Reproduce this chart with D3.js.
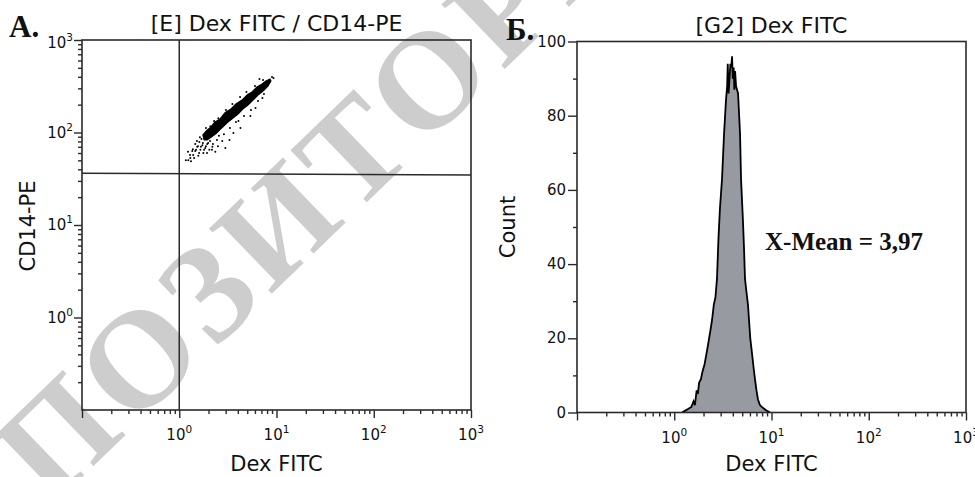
<!DOCTYPE html>
<html><head><meta charset="utf-8">
<script src="https://cdn.jsdelivr.net/npm/d3@7"></script>
<style>body{margin:0;background:#fff;overflow:hidden} svg{display:block}</style>
</head><body>
<svg id="c" width="975" height="477"></svg>
<script>
// ---------------- data ----------------
const panelTitles = ["[E] Dex FITC / CD14-PE", "[G2] Dex FITC"];
const panelLetters = ["А.", "Б."];
const xAxisLabel = "Dex FITC";
const yAxisLabels = ["CD14-PE", "Count"];
const logDomain = [0.1, 1000];
const logMajorExps = [0, 1, 2, 3];
const countDomain = [0, 100];
const countMajor = [0, 20, 40, 60, 80, 100];
const countMinor = [10, 30, 50, 70, 90];
const gateX = 1.0;
const gateYLeftRight = [36.2, 34.8];

// dense core of the Dex FITC / CD14-PE cloud (FITC, PE)
const coreUpperFITC = [1.75, 1.93, 2.12, 2.33, 2.63, 2.95, 3.40, 3.83, 4.42, 4.97, 5.60, 6.30, 7.10, 7.80, 8.57];
const coreUpperPE   = [94, 106, 115, 130, 140, 163, 180, 203, 224, 254, 274, 310, 334, 360, 379];
const coreLowerFITC = [8.77, 8.18, 7.26, 6.45, 5.73, 5.09, 4.53, 4.02, 3.57, 3.10, 2.73, 2.43, 2.12, 1.93, 1.80];
const coreLowerPE   = [360, 318, 281, 254, 224, 198, 180, 158, 143, 127, 112, 99, 89, 83, 83];
// individual events outside the dense core (FITC, PE)
const dotFITC = [1.30, 1.39, 1.46, 1.57, 1.36, 1.53, 1.65, 1.73, 1.61, 1.77, 1.85, 1.46, 1.69, 1.94, 2.04, 2.19, 2.35, 1.24, 2.98, 2.77, 3.28, 3.60, 4.26, 4.06, 5.39, 6.08, 7.17, 9.31, 6.68, 4.91, 3.52, 2.52, 2.09, 1.90,
  1.17, 1.29, 1.42, 1.49, 1.60, 1.67, 1.80, 1.88, 1.98, 1.56, 1.38, 1.52, 2.07, 2.22, 2.44, 2.56, 2.88, 3.32, 3.83, 4.63, 5.47, 6.45, 7.43, 8.99, 7.26, 6.01, 4.22, 3.02, 2.28, 1.88, 1.63, 1.75, 1.32, 1.23, 1.93, 2.17, 2.50];
const dotPE   = [53, 57, 63, 56, 63, 70, 65, 73, 79, 60, 68, 75, 85, 75, 65, 70, 62, 50, 68, 81, 83, 99, 112, 133, 151, 184, 236, 388, 378, 274, 203, 143, 117, 101,
  50, 57, 53, 65, 60, 70, 65, 71, 77, 71, 66, 81, 81, 75, 83, 92, 96, 112, 130, 151, 175, 219, 261, 398, 370, 318, 242, 175, 133, 112, 89, 77, 49, 62, 60, 65, 71];

// histogram outline of Dex FITC (value, count)
const histFITC  = [1.20, 1.30, 1.40, 1.50, 1.58, 1.63, 1.70, 1.75, 1.80, 1.88, 1.95, 2.05, 2.15, 2.25, 2.35, 2.45, 2.55, 2.65, 2.75, 2.85, 2.95, 3.10, 3.25, 3.40, 3.50, 3.55, 3.62, 3.70, 3.78, 3.85, 3.93, 4.00, 4.08, 4.15, 4.22, 4.32, 4.42, 4.53, 4.65, 4.75, 4.86, 5.00, 5.10, 5.22, 5.34, 5.50, 5.73, 5.87, 6.05, 6.30, 6.55, 6.76, 7.00, 7.26, 7.60, 8.20, 8.80, 9.70];
const histCount = [0, 0.5, 1, 1.5, 3, 2, 6, 5, 8, 9, 11, 13, 16, 19, 22, 25, 29, 31, 36, 47, 55, 63, 75, 84, 88, 94, 86, 90, 94, 93, 96, 90, 93, 87, 92, 88, 87, 86, 80, 75, 63, 56, 51, 44, 36, 33, 29, 25, 20, 16, 12, 9, 6, 3.5, 2, 1.2, 0.6, 0];
const meanLabel = "X-Mean = 3,97";
const watermarkText = "РЕПОЗИТОРИЙ";

// ---------------- drawing ----------------
const svg = d3.select("#c");
const FONT = "'DejaVu Sans', sans-serif";
const SERIF = "'Liberation Serif', 'Times New Roman', serif";
const AX = "#2a2a2a";
const TICKFS = 15, SUPFS = 10.5;

// watermark (behind)
svg.append("text")
  .attr("transform", "translate(291,212) rotate(-44)")
  .attr("text-anchor", "middle").attr("dy", "0.33em")
  .attr("font-family", SERIF).attr("font-weight", "bold")
  .attr("letter-spacing", 6)
  .attr("font-size", 138).attr("fill", "#cdcdcd")
  .text(watermarkText);

function logXAxis(g, x, box) {
  g.append("rect").attr("x", box.l).attr("y", box.t)
    .attr("width", box.r - box.l).attr("height", box.b - box.t)
    .attr("fill", "none").attr("stroke", AX).attr("stroke-width", 1.6);
  const majors = logMajorExps.map(e => Math.pow(10, e));
  const minorsX = x.ticks().filter(v => Math.abs(Math.log10(v) - Math.round(Math.log10(v))) > 1e-6);
  const ax = g.append("g").attr("transform", `translate(0,${box.b})`);
  ax.call(d3.axisBottom(x).tickValues(majors.concat([0.1])).tickSize(8).tickFormat(""));
  ax.select(".domain").remove();
  const axm = g.append("g").attr("transform", `translate(0,${box.b})`);
  axm.call(d3.axisBottom(x).tickValues(minorsX).tickSize(4).tickFormat(""));
  axm.select(".domain").remove();
  g.selectAll(".tick line").attr("stroke", AX).attr("stroke-width", 1.4);
  logMajorExps.forEach(e => {
    const t = g.append("text").attr("x", x(Math.pow(10, e))).attr("y", box.b + 30)
      .attr("text-anchor", "middle").attr("font-family", FONT).attr("font-size", TICKFS).attr("fill", "#111");
    t.append("tspan").text("10");
    t.append("tspan").attr("dy", -7).attr("font-size", SUPFS).text(String(e));
  });
}

// ---------- Panel A ----------
const boxA = {l: 82, r: 471, t: 40, b: 410};
const xA = d3.scaleLog().domain(logDomain).range([boxA.l, boxA.r]);
const yA = d3.scaleLog().domain(logDomain).range([boxA.b, boxA.t]);
const gA = svg.append("g");

const corePts = coreUpperFITC.map((v, i) => [v, coreUpperPE[i]])
  .concat(coreLowerFITC.map((v, i) => [v, coreLowerPE[i]]));
gA.append("path")
  .attr("d", d3.line().x(d => xA(d[0])).y(d => yA(d[1])).curve(d3.curveLinearClosed)(corePts))
  .attr("fill", "#000").attr("stroke", "#000").attr("stroke-width", 1.2).attr("stroke-linejoin", "round");
gA.selectAll("circle.dot").data(dotFITC.map((v, i) => [v, dotPE[i]])).join("circle")
  .attr("class", "dot").attr("cx", d => xA(d[0])).attr("cy", d => yA(d[1])).attr("r", 1).attr("fill", "#000");

logXAxis(gA, xA, boxA);
const yMajors = logMajorExps.map(e => Math.pow(10, e));
const yMinors = yA.ticks().filter(v => Math.abs(Math.log10(v) - Math.round(Math.log10(v))) > 1e-6);
const ayA = gA.append("g").attr("transform", `translate(${boxA.l},0)`);
ayA.call(d3.axisLeft(yA).tickValues(yMajors).tickSize(8).tickFormat(""));
ayA.select(".domain").remove();
const ayA2 = gA.append("g").attr("transform", `translate(${boxA.l},0)`);
ayA2.call(d3.axisLeft(yA).tickValues(yMinors).tickSize(4).tickFormat(""));
ayA2.select(".domain").remove();
gA.selectAll(".tick line").attr("stroke", AX).attr("stroke-width", 1.4);
logMajorExps.forEach(e => {
  const t = gA.append("text").attr("x", 73).attr("y", yA(Math.pow(10, e)) + 5 + (e === 3 ? 3 : 0))
    .attr("text-anchor", "end").attr("font-family", FONT).attr("font-size", TICKFS).attr("fill", "#111");
  t.append("tspan").text("10");
  t.append("tspan").attr("dy", -7).attr("font-size", SUPFS).text(String(e));
});
gA.append("line").attr("x1", xA(gateX)).attr("x2", xA(gateX)).attr("y1", boxA.t).attr("y2", boxA.b)
  .attr("stroke", AX).attr("stroke-width", 1.5);
gA.append("line").attr("x1", boxA.l).attr("x2", boxA.r)
  .attr("y1", yA(gateYLeftRight[0])).attr("y2", yA(gateYLeftRight[1]))
  .attr("stroke", AX).attr("stroke-width", 1.5);

// ---------- Panel B ----------
const boxB = {l: 577, r: 966, t: 41.5, b: 412.5};
const xB = d3.scaleLog().domain(logDomain).range([boxB.l, boxB.r]);
const yB = d3.scaleLinear().domain(countDomain).range([boxB.b, boxB.t]);
const gB = svg.append("g");
const histPts = histFITC.map((v, i) => [v, histCount[i]]);
gB.append("path")
  .attr("d", d3.area().x(d => xB(d[0])).y0(yB(0)).y1(d => yB(d[1]))(histPts))
  .attr("fill", "#979aa1");
gB.append("path")
  .attr("d", d3.line().x(d => xB(d[0])).y(d => yB(d[1]))(histPts))
  .attr("fill", "none").attr("stroke", "#000").attr("stroke-width", 1.8);
logXAxis(gB, xB, boxB);
const ayB = gB.append("g").attr("transform", `translate(${boxB.l},0)`);
ayB.call(d3.axisLeft(yB).tickValues(countMajor).tickSize(9).tickFormat(""));
ayB.select(".domain").remove();
const ayB2 = gB.append("g").attr("transform", `translate(${boxB.l},0)`);
ayB2.call(d3.axisLeft(yB).tickValues(countMinor).tickSize(4).tickFormat(""));
ayB2.select(".domain").remove();
gB.selectAll(".tick line").attr("stroke", AX).attr("stroke-width", 1.4);
countMajor.forEach(v => {
  gB.append("text").attr("x", 566).attr("y", yB(v) + 5)
    .attr("text-anchor", "end").attr("font-family", FONT).attr("font-size", TICKFS).attr("fill", "#111").text(v);
});
gB.append("text").attr("x", 765).attr("y", 250)
  .attr("font-family", SERIF).attr("font-weight", "bold").attr("font-size", 25).attr("fill", "#111")
  .text(meanLabel);

// ---------- titles / labels ----------
const centers = [(boxA.l + boxA.r) / 2, (boxB.l + boxB.r) / 2];
svg.append("text").attr("x", centers[0]).attr("y", 31).attr("text-anchor", "middle")
  .attr("font-family", FONT).attr("font-size", 22).attr("fill", "#111").text(panelTitles[0]);
svg.append("text").attr("x", centers[1]).attr("y", 33).attr("text-anchor", "middle")
  .attr("font-family", FONT).attr("font-size", 22).attr("fill", "#111").text(panelTitles[1]);
centers.forEach(cx => {
  svg.append("text").attr("x", cx).attr("y", 471).attr("text-anchor", "middle")
    .attr("font-family", FONT).attr("font-size", 21).attr("fill", "#111").text(xAxisLabel);
});
[[28, 226], [508, 227]].forEach((p, i) => {
  svg.append("text").attr("transform", `translate(${p[0] + 7},${p[1]}) rotate(-90)`)
    .attr("text-anchor", "middle").attr("font-family", FONT).attr("font-size", 21).attr("fill", "#111")
    .text(yAxisLabels[i]);
});
svg.append("text").attr("x", 9).attr("y", 37).attr("font-family", SERIF).attr("font-weight", "bold")
  .attr("font-size", 31).attr("fill", "#111").text(panelLetters[0]);
svg.append("text").attr("x", 506).attr("y", 40).attr("font-family", SERIF).attr("font-weight", "bold")
  .attr("font-size", 31).attr("fill", "#111").text(panelLetters[1]);
</script>
</body></html>
